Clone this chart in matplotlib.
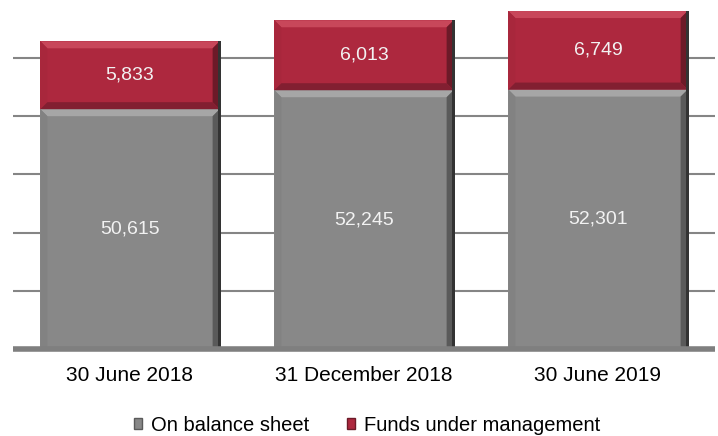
import matplotlib.pyplot as plt
from matplotlib.patches import Polygon, Patch
from matplotlib.transforms import IdentityTransform

# data
periods = ['30 June 2018', '31 December 2018', '30 June 2019']
on_balance = [50615, 52245, 52301]
funds_mgmt = [5833, 6013, 6749]

gray = '#888888'
red = '#ad283e'

plt.rcParams['font.family'] = ['Liberation Sans', 'DejaVu Sans']

fig = plt.figure(figsize=(7.18, 4.36), dpi=100)
ax = fig.add_axes([13 / 718, 87 / 436, 702 / 718, 349 / 436])

x = list(range(len(periods)))
width = 0.766
b1 = ax.bar(x, on_balance, width, color=gray, zorder=2, label='On balance sheet')
b2 = ax.bar(x, funds_mgmt, width, bottom=on_balance, color=red, zorder=2,
            label='Funds under management')

ax.set_xlim(-0.5, len(periods) - 0.5)
ax.set_ylim(30000, 60000)
ax.set_yticks(range(35000, 60000, 5000))
ax.yaxis.grid(True, color='#858585', linewidth=1.5, zorder=0)
ax.tick_params(axis='y', length=0, labelleft=False)
ax.tick_params(axis='x', length=0, labelsize=15, pad=12)
ax.set_xticks(x)
ax.set_xticklabels(periods)
for s in ['top', 'left', 'right']:
    ax.spines[s].set_visible(False)
ax.spines['bottom'].set_color('#7f7f7f')
ax.spines['bottom'].set_linewidth(4)
ax.spines['bottom'].set_capstyle('butt')
ax.spines['bottom'].set_zorder(3)


# bevel effect around each segment, computed from the bar patches
def bevel(rect, top_c, left_c, right_c, bot_c, d=7):
    x0, y0 = ax.transData.transform((rect.get_x(), rect.get_y()))
    x1, y1 = ax.transData.transform((rect.get_x() + rect.get_width(),
                                     rect.get_y() + rect.get_height()))
    polys = [
        ([(x0, y1), (x1, y1), (x1 - d, y1 - d), (x0 + d, y1 - d)], top_c),
        ([(x0, y0), (x0, y1), (x0 + d, y1 - d), (x0 + d, y0 + d)], left_c),
        ([(x1, y0), (x1, y1), (x1 - d, y1 - d), (x1 - d, y0 + d)], right_c),
        ([(x0, y0), (x1, y0), (x1 - d, y0 + d), (x0 + d, y0 + d)], bot_c),
    ]
    for pts, c in polys:
        ax.add_patch(Polygon(pts, closed=True, facecolor=c, edgecolor='none',
                             transform=IdentityTransform(), zorder=2.5))
    # dark outer edge on the right
    ax.add_patch(Polygon([(x1 - 2, y0), (x1 + 1, y0), (x1 + 1, y1), (x1 - 2, y1)],
                         closed=True, facecolor='#333333', edgecolor='none',
                         transform=IdentityTransform(), zorder=2.6))


for r in b1.patches:
    bevel(r, '#a6a6a6', '#828282', '#5a5a5a', '#717171')
for r in b2.patches:
    bevel(r, '#c8475a', '#a8273c', '#6c1a28', '#821f31')

# value labels
for i in x:
    ax.text(i, 30000 + (on_balance[i] - 30000) / 2, f'{on_balance[i]:,}',
            ha='center', va='center', color='#f2f2f2', fontsize=14, zorder=4)
    ax.text(i, on_balance[i] + funds_mgmt[i] / 2, f'{funds_mgmt[i]:,}',
            ha='center', va='center', color='#f2f2f2', fontsize=14, zorder=4)

handles = [Patch(facecolor=gray, edgecolor='#5a5a5a', label='On balance sheet'),
           Patch(facecolor=red, edgecolor='#6c1a28', label='Funds under management')]
fig.legend(handles=handles, loc='center', bbox_to_anchor=(0.511, 0.025), ncol=2,
           frameon=False, fontsize=14.5, handlelength=0.42, handleheight=0.42,
           handletextpad=0.4, columnspacing=1.9)

plt.savefig('out.png', dpi=100)
